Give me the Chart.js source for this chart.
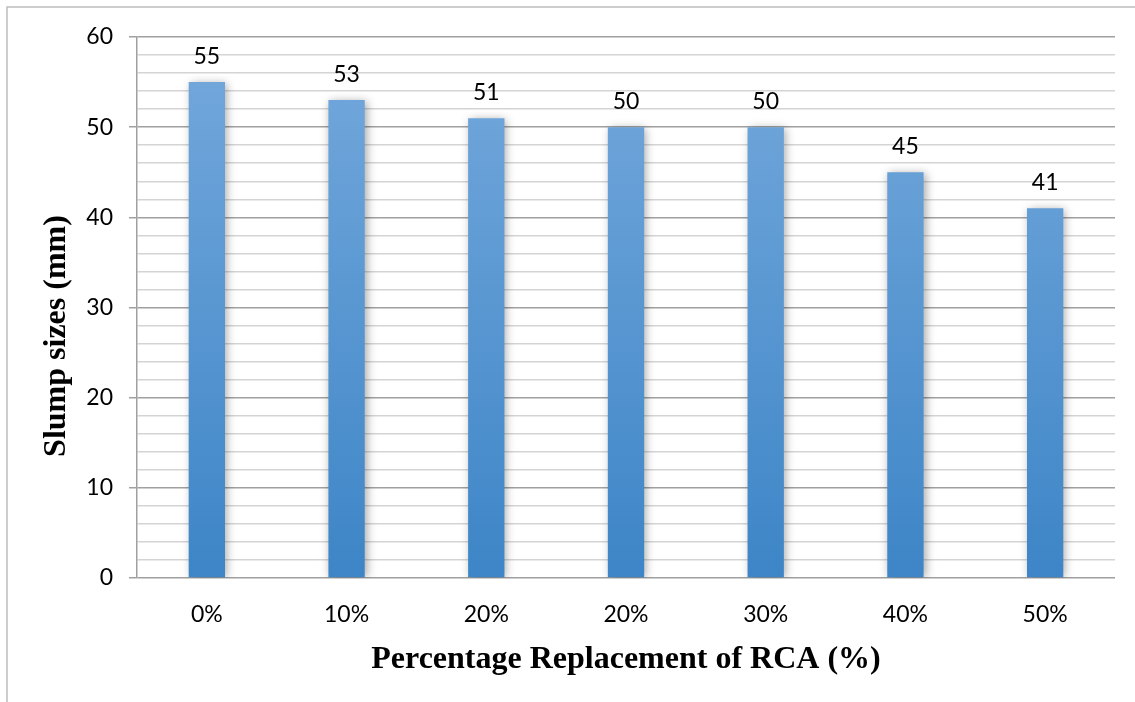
<!DOCTYPE html>
<html>
<head>
<meta charset="utf-8">
<script src="https://cdn.jsdelivr.net/npm/chart.js@4.4.1/dist/chart.umd.min.js"></script>
<style>
  html, body { margin: 0; padding: 0; background: #fff; }
  #wrap { position: relative; width: 1135px; height: 702px; }
</style>
</head>
<body>
<div id="wrap"><canvas id="c" width="1135" height="702"></canvas></div>
<script>
// Slump test results per RCA replacement level
const categories = ['0%', '10%', '20%', '20%', '30%', '40%', '50%'];
const slumpValues = [55, 53, 51, 50, 50, 45, 41];
const yTickMax = 60;
const yMinorStep = 2;
const yMajorStep = 10;
const xTitle = 'Percentage Replacement of RCA (%)';
const yTitle = 'Slump sizes (mm)';

const labelFont = { family: 'Lato, "Open Sans", sans-serif', size: 23 };
const titleFontCss = 'bold 32px "Liberation Serif", "Times New Roman", serif';

// Outer frame of the chart
const framePlugin = {
  id: 'frame',
  beforeDraw(chart) {
    const c = chart.ctx;
    c.save();
    c.strokeStyle = '#bdbdbd';
    c.lineWidth = 1.5;
    c.beginPath();
    c.moveTo(7, 702);
    c.lineTo(7, 7);
    c.lineTo(1135, 7);
    c.stroke();
    c.restore();
  }
};

// Soft shadow behind the bars
const shadowPlugin = {
  id: 'barShadow',
  beforeDatasetsDraw(chart) {
    const c = chart.ctx;
    c.save();
    c.shadowColor = 'rgba(0,0,0,0.35)';
    c.shadowBlur = 9;
    c.shadowOffsetX = 2;
    c.shadowOffsetY = 1;
  },
  afterDatasetsDraw(chart) {
    chart.ctx.restore();
  }
};

// Value labels above each bar
const valueLabelPlugin = {
  id: 'valueLabels',
  afterDatasetsDraw(chart) {
    const c = chart.ctx;
    const meta = chart.getDatasetMeta(0);
    c.save();
    c.font = `${labelFont.size}px ${labelFont.family}`;
    c.fillStyle = '#000';
    c.textAlign = 'center';
    c.textBaseline = 'middle';
    meta.data.forEach((bar, i) => {
      c.fillText(String(slumpValues[i]), bar.x, bar.y - 26);
    });
    c.restore();
  }
};

// Axis titles
const axisTitlePlugin = {
  id: 'axisTitles',
  afterDraw(chart) {
    const c = chart.ctx;
    const area = chart.chartArea;
    c.save();
    c.font = titleFontCss;
    c.fillStyle = '#000';
    c.textAlign = 'center';
    c.textBaseline = 'middle';
    c.fillText(xTitle, (area.left + area.right) / 2, 660);
    c.translate(57, 336);
    c.rotate(-Math.PI / 2);
    c.fillText(yTitle, 0, 0);
    c.restore();
  }
};

const ctx = document.getElementById('c').getContext('2d');
new Chart(ctx, {
  type: 'bar',
  data: {
    labels: categories,
    datasets: [{
      data: slumpValues,
      backgroundColor(context) {
        const area = context.chart.chartArea;
        if (!area) return '#5b9bd5';
        const g = context.chart.ctx.createLinearGradient(0, area.top, 0, area.bottom);
        g.addColorStop(0, '#75a9dc');
        g.addColorStop(1, '#3d85c7');
        return g;
      },
      borderWidth: 0,
      categoryPercentage: 1,
      barPercentage: 0.26
    }]
  },
  options: {
    responsive: false,
    animation: false,
    devicePixelRatio: 1,
    layout: { padding: { left: 8, top: 37, right: 20, bottom: 24 } },
    plugins: {
      legend: { display: false },
      tooltip: { enabled: false }
    },
    scales: {
      x: {
        grid: { display: false, drawTicks: false },
        border: { display: false },
        ticks: { color: '#000', font: labelFont, padding: 23 },
        afterFit(scale) { scale.height = 100; }
      },
      y: {
        min: 0,
        max: yTickMax,
        ticks: {
          stepSize: yMinorStep,
          color: '#000',
          font: labelFont,
          padding: 16,
          autoSkip: false,
          callback(v) { return v % yMajorStep === 0 ? v : ''; }
        },
        grid: {
          color(c) { return c.tick && c.tick.value % yMajorStep === 0 ? '#a0a0a0' : '#d4d4d4'; },
          lineWidth: 1.5,
          tickColor(c) { return c.tick && c.tick.value % yMajorStep === 0 ? '#a0a0a0' : 'rgba(0,0,0,0)'; },
          tickLength: 8
        },
        border: { display: true, color: '#a0a0a0', width: 1.5 },
        afterFit(scale) { scale.width = 129; }
      }
    }
  },
  plugins: [framePlugin, shadowPlugin, valueLabelPlugin, axisTitlePlugin]
});
</script>
</body>
</html>
